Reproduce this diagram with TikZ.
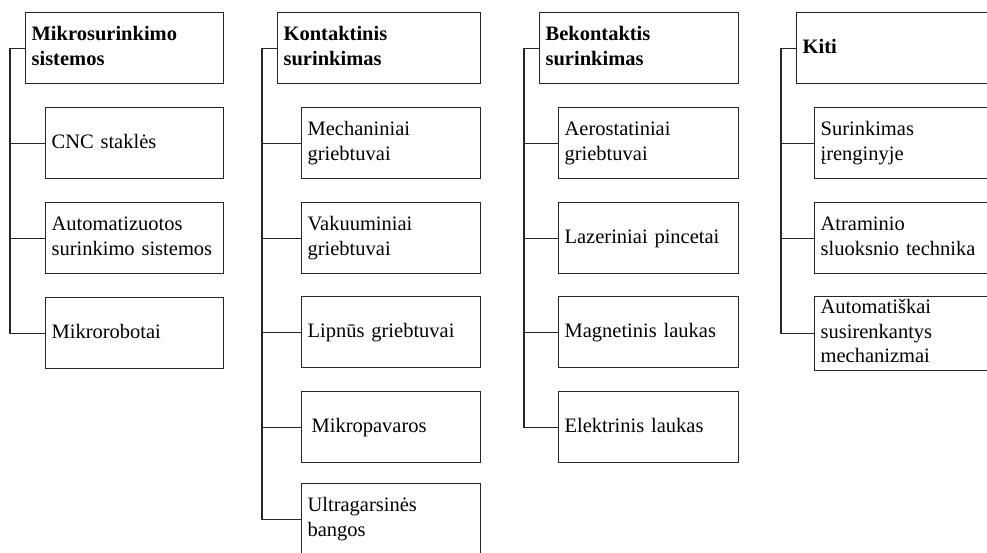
\documentclass[tikz,border=0pt]{standalone}
\usepackage{fontspec}
\setmainfont{Liberation Serif}
\begin{document}
\begin{tikzpicture}[x=1pt,y=-1pt,
  every node/.style={inner sep=0pt},
  box/.style={draw=black!85, line width=1.2pt, anchor=north west, minimum height=71pt,
    inner xsep=6pt, inner ysep=0pt, align=left, text width=#1,
    font=\fontsize{20.5}{24.5}\selectfont,
    execute at begin node=\strut, execute at end node=\strut},
  hbox/.style={box=#1, font=\fontsize{20.5}{24.5}\selectfont\bfseries},
  link/.style={draw=black!85, line width=1.2pt}
]
\useasboundingbox (0,0) rectangle (987,552);

% Column 1
\node[hbox=186pt] (h1) at (25,12) {Mikrosurinkimo\\sistemos};
\node[box=166pt] (a1) at (45,107) {CNC staklės};
\node[box=166pt] (a2) at (45,202) {Automatizuotos\\surinkimo sistemos};
\node[box=166pt] (a3) at (45,297) {Mikrorobotai};
\coordinate (v1) at (10,0);
\draw[link] (h1.west) -- (v1 |- h1.west) -- (v1 |- a3.west) -- (a3.west);
\draw[link] (v1 |- a1.west) -- (a1.west);
\draw[link] (v1 |- a2.west) -- (a2.west);

% Column 2
\node[hbox=191pt] (h2) at (277,12) {Kontaktinis\\surinkimas};
\node[box=167pt] (b1) at (301,107) {Mechaniniai\\griebtuvai};
\node[box=167pt] (b2) at (301,202) {Vakuuminiai\\griebtuvai};
\node[box=167pt] (b3) at (301,296) {Lipnūs griebtuvai};
\node[box=167pt] (b4) at (301,391) {\hspace{4pt}Mikropavaros};
\node[box=167pt] (b5) at (301,483) {Ultragarsinės\\bangos};
\coordinate (v2) at (262,0);
\draw[link] (h2.west) -- (v2 |- h2.west) -- (v2 |- b5.west) -- (b5.west);
\draw[link] (v2 |- b1.west) -- (b1.west);
\draw[link] (v2 |- b2.west) -- (b2.west);
\draw[link] (v2 |- b3.west) -- (b3.west);
\draw[link] (v2 |- b4.west) -- (b4.west);

% Column 3
\node[hbox=187pt] (h3) at (539,12) {Bekontaktis\\surinkimas};
\node[box=168pt] (c1) at (558,107) {Aerostatiniai\\griebtuvai};
\node[box=168pt] (c2) at (558,202) {Lazeriniai pincetai};
\node[box=168pt] (c3) at (558,296) {Magnetinis laukas};
\node[box=168pt] (c4) at (558,391) {Elektrinis laukas};
\coordinate (v3) at (524,0);
\draw[link] (h3.west) -- (v3 |- h3.west) -- (v3 |- c4.west) -- (c4.west);
\draw[link] (v3 |- c1.west) -- (c1.west);
\draw[link] (v3 |- c2.west) -- (c2.west);
\draw[link] (v3 |- c3.west) -- (c3.west);

% Column 4
\node[hbox=182pt] (h4) at (796,12) {Kiti};
\node[box=164pt] (d1) at (814,107) {Surinkimas\\įrenginyje};
\node[box=164pt] (d2) at (814,202) {Atraminio\\sluoksnio technika};
\node[box=164pt] (d3) at (814,296) {Automatiškai\\susirenkantys\\mechanizmai};
\coordinate (v4) at (781,0);
\draw[link] (h4.west) -- (v4 |- h4.west) -- (v4 |- d3.west) -- (d3.west);
\draw[link] (v4 |- d1.west) -- (d1.west);
\draw[link] (v4 |- d2.west) -- (d2.west);
\end{tikzpicture}
\end{document}
